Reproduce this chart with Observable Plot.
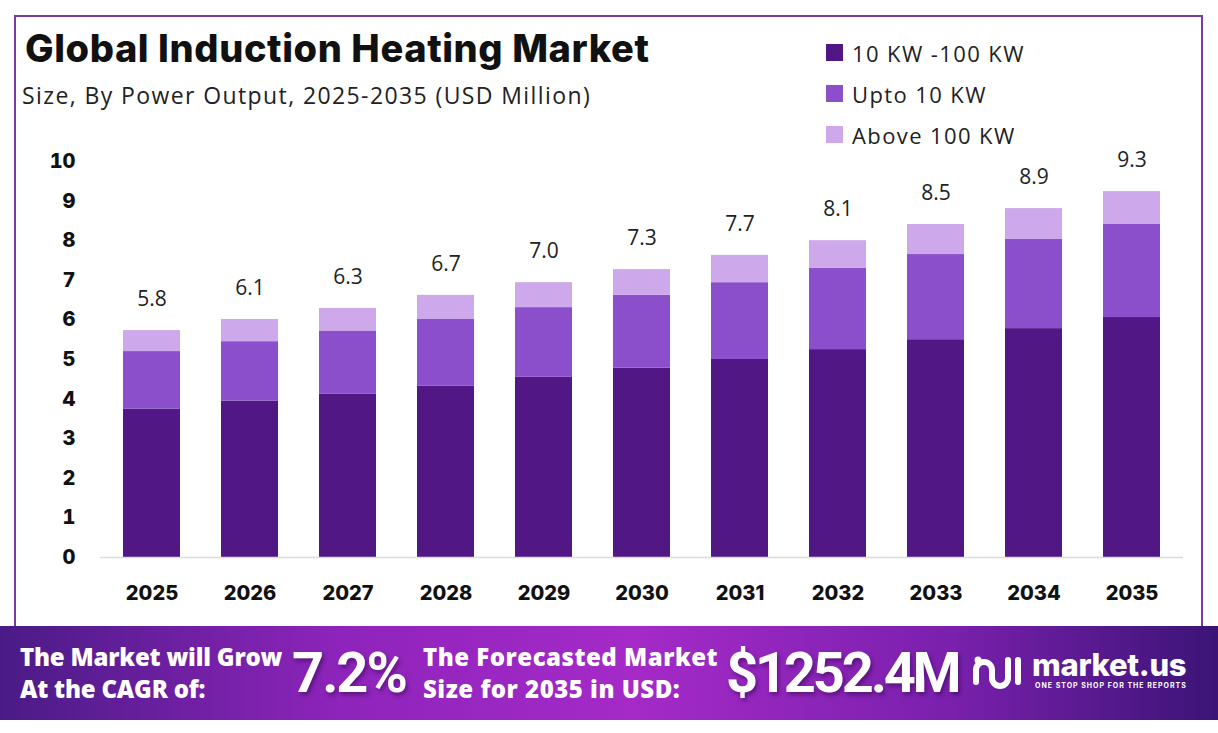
<!DOCTYPE html>
<html>
<head>
<meta charset="utf-8">
<script src="https://cdn.jsdelivr.net/npm/d3@7"></script>
<script src="https://cdn.jsdelivr.net/npm/@observablehq/plot@0.6"></script>
<style>
  html, body { margin: 0; padding: 0; background: #fff; }
  #root { position: relative; width: 1218px; height: 733px; overflow: hidden; background: #fff; font-family: Inter, "Open Sans", sans-serif; }
  #frame { position: absolute; left: 14px; top: 15px; width: 1189px; height: 620px; border: 2px solid #7a3d9c; border-bottom: none; box-sizing: border-box; }
  #title { position: absolute; left: 25px; top: 25px; font-size: 38px; font-weight: 800; color: #111; letter-spacing: 0.6px; white-space: nowrap; }
  #subtitle { position: absolute; left: 22px; top: 79px; font-size: 23px; font-weight: 400; color: #222; white-space: nowrap; font-family: "Open Sans", sans-serif; letter-spacing: 1.4px; }
  #legend { position: absolute; left: 826px; top: 32px; font-family: "Open Sans", sans-serif; font-size: 22px; letter-spacing: 1.4px; color: #222; }
  .li { display: flex; align-items: center; height: 41px; white-space: nowrap; }
  .sw { width: 17px; height: 17px; margin-right: 9px; }
  #chart { position: absolute; left: 0; top: 140px; }
  #banner { position: absolute; left: 0; top: 626px; width: 1218px; height: 94px;
    background: linear-gradient(90deg, #4a1b86 0%, #8e24bb 28%, #a52ac8 52%, #7a20ad 78%, #3b1476 100%); color: #fff; font-family: "Open Sans", sans-serif; font-weight: 800; }
  .bt { position: absolute; font-size: 24px; line-height: 32px; letter-spacing: -0.2px; white-space: nowrap; }
  .big { position: absolute; font-family: Roboto, sans-serif; font-weight: 700; font-size: 56px; line-height: 56px; letter-spacing: -2px; white-space: nowrap; text-shadow: 2px 3px 4px rgba(40,0,60,0.45); }
  #logo { position: absolute; left: 1032px; top: 22px; font-family: Inter, sans-serif; font-size: 31px; font-weight: 800; letter-spacing: -0.3px; line-height: 34px; }
  #tag { position: absolute; left: 1035px; top: 55px; font-size: 7px; font-weight: 700; letter-spacing: 1px; white-space: nowrap; font-family: Inter, sans-serif; }
</style>
</head>
<body>
<div id="root">
  <div id="frame"></div>
  <div id="title">Global Induction Heating Market</div>
  <div id="subtitle">Size, By Power Output, 2025-2035 (USD Million)</div>
  <div id="legend"></div>
  <div id="chart"></div>
  <div id="banner">
    <div class="bt" style="left:20px;top:15px;">The Market will Grow<br>At the CAGR of:</div>
    <div class="big" style="left:292px;top:19px;">7.2%</div>
    <div class="bt" style="left:423px;top:15px;letter-spacing:0.5px;">The Forecasted Market<br>Size for 2035 in USD:</div>
    <div class="big" style="left:726px;top:19px;letter-spacing:-3.2px;">$1252.4M</div>
    <svg style="position:absolute;left:970px;top:26px;" width="56" height="42" viewBox="0 0 56 42">
      <g fill="none" stroke="#fff" stroke-width="6" stroke-linecap="round">
        <path d="M6 30 V18 a8 8 0 0 1 16 0 V26 a8 8 0 0 0 16 0 V8"/>
        <path d="M48 8 V30"/>
      </g>
      <circle cx="8" cy="8" r="3.5" fill="#fff"/>
    </svg>
    <div id="logo">market.us</div>
    <div id="tag">ONE STOP SHOP FOR THE REPORTS</div>
  </div>
</div>
<script>
const years = ["2025","2026","2027","2028","2029","2030","2031","2032","2033","2034","2035"];
const segments = ["10 KW -100 KW", "Upto 10 KW", "Above 100 KW"];
const colors = ["#511784", "#8b4fcc", "#cda8ea"];
const midPower = [3.75, 3.95, 4.12, 4.33, 4.55, 4.78, 5.00, 5.25, 5.50, 5.78, 6.06];
const upto10 = [1.45, 1.50, 1.60, 1.68, 1.76, 1.84, 1.94, 2.05, 2.15, 2.25, 2.35];
const above100 = [0.53, 0.56, 0.57, 0.61, 0.63, 0.65, 0.69, 0.70, 0.76, 0.78, 0.83];
const totals = ["5.8","6.1","6.3","6.7","7.0","7.3","7.7","8.1","8.5","8.9","9.3"];
const yTicks = [0,1,2,3,4,5,6,7,8,9,10];

const series = [midPower, upto10, above100];
const rows = [];
years.forEach((y, i) => series.forEach((s, k) => rows.push({year: y, segment: segments[k], value: s[i]})));
const labels = years.map((y, i) => ({year: y, top: midPower[i] + upto10[i] + above100[i], text: totals[i]}));

// legend
const lg = document.getElementById("legend");
segments.forEach((s, k) => {
  const d = document.createElement("div"); d.className = "li";
  d.innerHTML = `<span class="sw" style="background:${colors[k]}"></span><span>${s}</span>`;
  lg.appendChild(d);
});

const chart = Plot.plot({
  width: 1218,
  height: 470,
  marginTop: 21,
  marginBottom: 53,
  marginLeft: 100,
  marginRight: 35,
  style: {fontFamily: "Inter, sans-serif", background: "transparent"},
  x: {domain: years, paddingInner: 0.42, paddingOuter: 0.23, label: null},
  y: {domain: [0, 10], label: null},
  color: {domain: segments, range: colors},
  marks: [
    Plot.barY(rows, {x: "year", y: "value", fill: "segment", order: segments}),
    Plot.ruleY([0], {stroke: "#dcdcdc", strokeWidth: 1.5}),
    Plot.text(labels, {x: "year", y: "top", text: "text", dy: -31, fontSize: 21, fill: "#222", fontFamily: "Open Sans, sans-serif"}),
    Plot.axisY({ticks: yTicks, tickSize: 0, tickPadding: 25, fontSize: 20, fontWeight: 800, fill: "#111", tickFormat: d => String(d)}),
    Plot.axisX({tickSize: 0, tickPadding: 28, fontSize: 20, fontWeight: 800, fill: "#111"})
  ]
});
document.getElementById("chart").appendChild(chart);
</script>
</body>
</html>
